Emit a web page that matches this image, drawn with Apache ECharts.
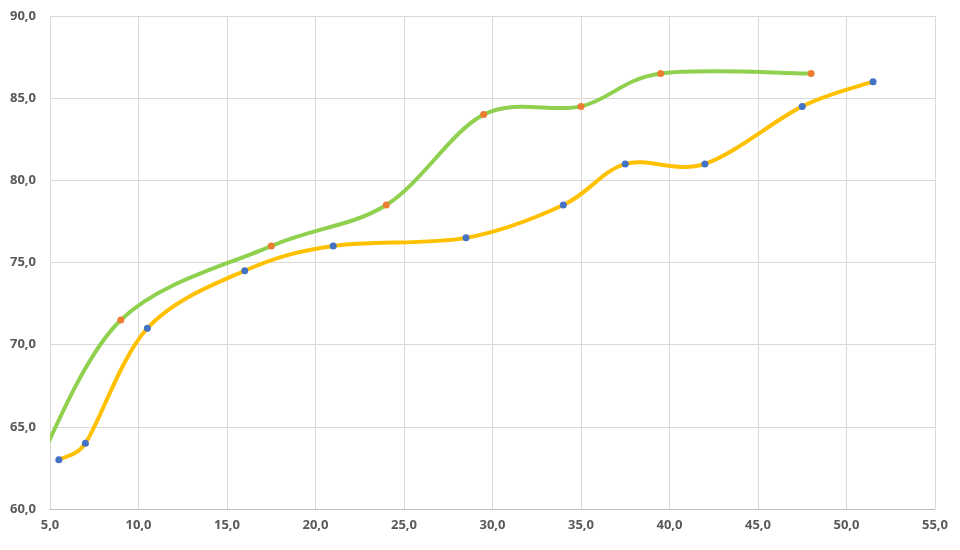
<!DOCTYPE html>
<html>
<head>
<meta charset="utf-8">
<script src="https://cdn.jsdelivr.net/npm/echarts@6/dist/echarts.min.js"></script>
<style>html,body{margin:0;padding:0;background:#fff}#c{width:960px;height:550px}</style>
</head>
<body>
<div id="c"></div>
<script>
// Series A (yellow line, blue markers)
var seriesAX = [5.5, 7.0, 10.5, 16.0, 21.0, 28.5, 34.0, 37.5, 42.0, 47.5, 51.5];
var seriesAY = [63.0, 64.0, 71.0, 74.5, 76.0, 76.5, 78.5, 81.0, 81.0, 84.5, 86.0];
// Series B (green line, orange markers); first point lies left of the visible range
var seriesBX = [4.0, 9.0, 17.5, 24.0, 29.5, 35.0, 39.5, 48.0];
var seriesBY = [62.0, 71.5, 76.0, 78.5, 84.0, 84.5, 86.5, 86.5];
// Axis ranges / ticks
var xMin = 5, xMax = 55, xStep = 5;
var yMin = 60, yMax = 90, yStep = 5;

function pairs(xs, ys){ return xs.map(function(x,i){ return [x, ys[i]]; }); }
function fmt(v){ return v.toFixed(1).replace('.', ','); }
function dist(a, b){ return Math.sqrt((a[0]-b[0])*(a[0]-b[0]) + (a[1]-b[1])*(a[1]-b[1])); }

// Spreadsheet-style smoothed curve (Catmull-Rom with limited tangents), positioned via coord()
function smoothRender(xs, ys, color){
  return function(params, api){
    if (params.dataIndex !== 0) return null;
    var p = xs.map(function(x,i){ return api.coord([x, ys[i]]); });
    var n = p.length;
    var d = 'M' + p[0][0] + ' ' + p[0][1];
    for (var i = 0; i < n - 1; i++){
      var p0 = p[i-1] || p[i], p1 = p[i], p2 = p[i+1], p3 = p[i+2] || p[i+1];
      var d12 = dist(p1, p2), d02 = dist(p0, p2), d13 = dist(p1, p3);
      var f1 = 1/6, f2 = 1/6;
      if (d02 / 6 > d12 / 2 && d02 > 0) f1 = d12 / (2 * d02);
      if (d13 / 6 > d12 / 2 && d13 > 0) f2 = d12 / (2 * d13);
      var c1x = p1[0] + (p2[0]-p0[0])*f1, c1y = p1[1] + (p2[1]-p0[1])*f1;
      var c2x = p2[0] - (p3[0]-p1[0])*f2, c2y = p2[1] - (p3[1]-p1[1])*f2;
      d += ' C' + c1x + ' ' + c1y + ' ' + c2x + ' ' + c2y + ' ' + p2[0] + ' ' + p2[1];
    }
    return {type:'path', shape:{pathData:d},
      style:{fill:null, stroke:color, lineWidth:4, lineCap:'round', lineJoin:'round'}};
  };
}

var chart = echarts.init(document.getElementById('c'));
var labelStyle = {color:'#595959', fontSize:13, fontWeight:'bold', fontFamily:'"Open Sans", "Liberation Sans", sans-serif', formatter: fmt};
chart.setOption({
  animation:false,
  backgroundColor:'#ffffff',
  grid:{left:50, right:25, top:16, bottom:41},
  xAxis:{type:'value', min:xMin, max:xMax, interval:xStep,
    axisLine:{show:true, lineStyle:{color:'#bfbfbf', width:1}},
    axisTick:{show:false},
    axisLabel:Object.assign({margin:10}, labelStyle),
    splitLine:{show:true, lineStyle:{color:'#d9d9d9', width:1}}},
  yAxis:{type:'value', min:yMin, max:yMax, interval:yStep,
    axisLine:{show:false}, axisTick:{show:false},
    axisLabel:Object.assign({margin:14}, labelStyle),
    splitLine:{show:true, lineStyle:{color:'#d9d9d9', width:1}}},
  series:[
    {type:'custom', clip:true, data:pairs(seriesBX, seriesBY), encode:{x:0, y:1},
     renderItem:smoothRender(seriesBX, seriesBY, '#8fd14f'), z:2},
    {type:'custom', clip:true, data:pairs(seriesAX, seriesAY), encode:{x:0, y:1},
     renderItem:smoothRender(seriesAX, seriesAY, '#ffc000'), z:2},
    {type:'scatter', data:pairs(seriesBX, seriesBY), symbolSize:7, clip:true,
     itemStyle:{color:'#ed7d31', opacity:1}, z:3},
    {type:'scatter', data:pairs(seriesAX, seriesAY), symbolSize:7, clip:true,
     itemStyle:{color:'#4472c4', opacity:1}, z:3}
  ]
});
</script>
</body>
</html>
